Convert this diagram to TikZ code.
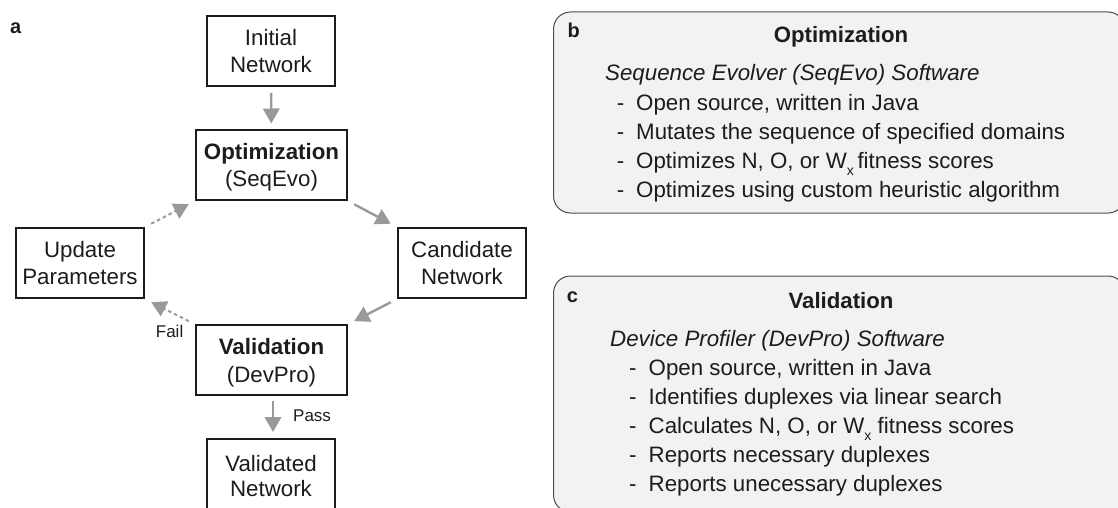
\documentclass[tikz,border=0pt]{standalone}
\usepackage{fontspec}
\setmainfont{Liberation Sans}
\usetikzlibrary{arrows.meta}
\definecolor{arrowgray}{HTML}{999999}
\definecolor{inkc}{HTML}{1C1C1C}
\tikzset{
  x=1pt,y=-1pt,
  flowbox/.style={draw=inkc,line width=2pt,fill=white,inner sep=0pt,align=center,text=inkc,font=\fontsize{22.3}{27.7}\selectfont},
  wide/.style={flowbox,minimum width=151pt,minimum height=70pt},
  narrow/.style={flowbox,minimum width=128pt,minimum height=70pt},
  small/.style={font=\fontsize{17}{20}\selectfont,text=inkc,anchor=base west,inner sep=0pt},
  panel/.style={draw=black!70,line width=1pt,fill=black!5,rounded corners=17pt,inner sep=0pt},
  arr/.style={draw=arrowgray,line width=2.4pt,-{Triangle[length=15pt,width=16.5pt]}},
  dotarr/.style={arr,line width=2pt,dash pattern=on 3.5pt off 3pt},
  lab/.style={font=\fontsize{20}{24}\bfseries\selectfont,anchor=base west,inner sep=0pt,text=inkc},
  ptitle/.style={font=\fontsize{22.2}{26}\bfseries\selectfont,anchor=base,inner sep=0pt,text=inkc},
  pital/.style={font=\fontsize{22.3}{26}\itshape\selectfont,anchor=base west,inner sep=0pt,text=inkc},
  pitem/.style={font=\fontsize{22.3}{26}\selectfont,anchor=base west,inner sep=0pt,text=inkc},
}
\newcommand{\wx}{W\raisebox{-7pt}{\fontsize{14}{14}\selectfont x}}
\newcommand{\twol}[3][13.3pt]{\rule{0pt}{29pt}#2\\#3\rule[-#1]{0pt}{0pt}}
\begin{document}
\begin{tikzpicture}
\useasboundingbox (0,0) rectangle (1118,508);
\clip (0,0) rectangle (1118,508);
\node[lab] (la) at (10,34) {a};
\node[narrow] (init) at (271,51) {\twol{\raisebox{-1pt}{Initial}}{Network}};
\node[wide] (opt) at (271.5,165) {\twol{\textbf{Optimization}}{(SeqEvo)}};
\node[narrow] (upd) at (80,263) {\twol{Update}{Parameters}};
\node[narrow] (cand) at (462,263) {\twol{Candidate}{Network}};
\node[wide] (val) at (271.5,360.3) {\twol{\textbf{Validation}}{(DevPro)}};
\node[narrow,minimum height=91pt] (vd) at (271,484.5) {\twol[32.3pt]{\raisebox{-2pt}{Validated}}{Network}};
% connectors
\draw[arr,shorten <=6pt,shorten >=5.5pt] (init) -- (opt);
\draw[arr,shorten <=7pt,shorten >=7pt] (opt.south east) -- (cand.north west);
\draw[arr,shorten <=7pt,shorten >=7pt] (cand.south west) -- (val.north east);
\draw[arr,shorten <=5pt,shorten >=6pt] ([xshift=1.5pt]val.south) -- ([xshift=2pt]vd.north);
\draw[dotarr,shorten <=7pt,shorten >=7pt] (val.north west) -- (upd.south east);
\draw[dotarr,shorten <=7pt,shorten >=7pt] (upd.north east) -- (opt.south west);
\node[small] (fail) at (155.7,337.3) {Fail};
\node[small] (pass) at (293,421.7) {Pass};
% panels
\draw[panel] (553.5,12) rectangle (1125,213);
\node[lab] (lb) at (567.5,37.5) {b};
\node[ptitle] (tb) at (841,42.7) {Optimization};
\node[pital] (ib) at (605,81) {Sequence Evolver (SeqEvo) Software};
\node[pitem] (b1d) at (616.7,110.5) {-}; \node[pitem] (b1) at (636,110.5) {Open source, written in Java};
\node[pitem] (b2d) at (616.7,139.5) {-}; \node[pitem] (b2) at (636,139.5) {Mutates the sequence of specified domains};
\node[pitem] (b3d) at (616.7,168.5) {-}; \node[pitem] (b3) at (636,168.5) {Optimizes N, O, or \wx\hspace{3.7pt}fitness scores};
\node[pitem] (b4d) at (616.7,197.5) {-}; \node[pitem] (b4) at (636,197.5) {Optimizes using custom heuristic algorithm};
\draw[panel] (553.5,276) rectangle (1125,512);
\node[lab] (lc) at (566.6,302.7) {c};
\node[ptitle] (tc) at (841,308.5) {Validation};
\node[pital] (ic) at (610,346) {Device Profiler (DevPro) Software};
\node[pitem] (c1d) at (629,375.5) {-}; \node[pitem] (c1) at (648.5,375.5) {Open source, written in Java};
\node[pitem] (c2d) at (629,404.3) {-}; \node[pitem] (c2) at (648.5,404.3) {Identifies duplexes via linear search};
\node[pitem] (c3d) at (629,433.3) {-}; \node[pitem] (c3) at (648.5,433.3) {Calculates N, O, or \wx\hspace{6.4pt}fitness scores};
\node[pitem] (c4d) at (629,462.5) {-}; \node[pitem] (c4) at (648.5,462.5) {Reports necessary duplexes};
\node[pitem] (c5d) at (629,491.7) {-}; \node[pitem] (c5) at (648.5,491.7) {Reports unecessary duplexes};
\end{tikzpicture}
\end{document}
